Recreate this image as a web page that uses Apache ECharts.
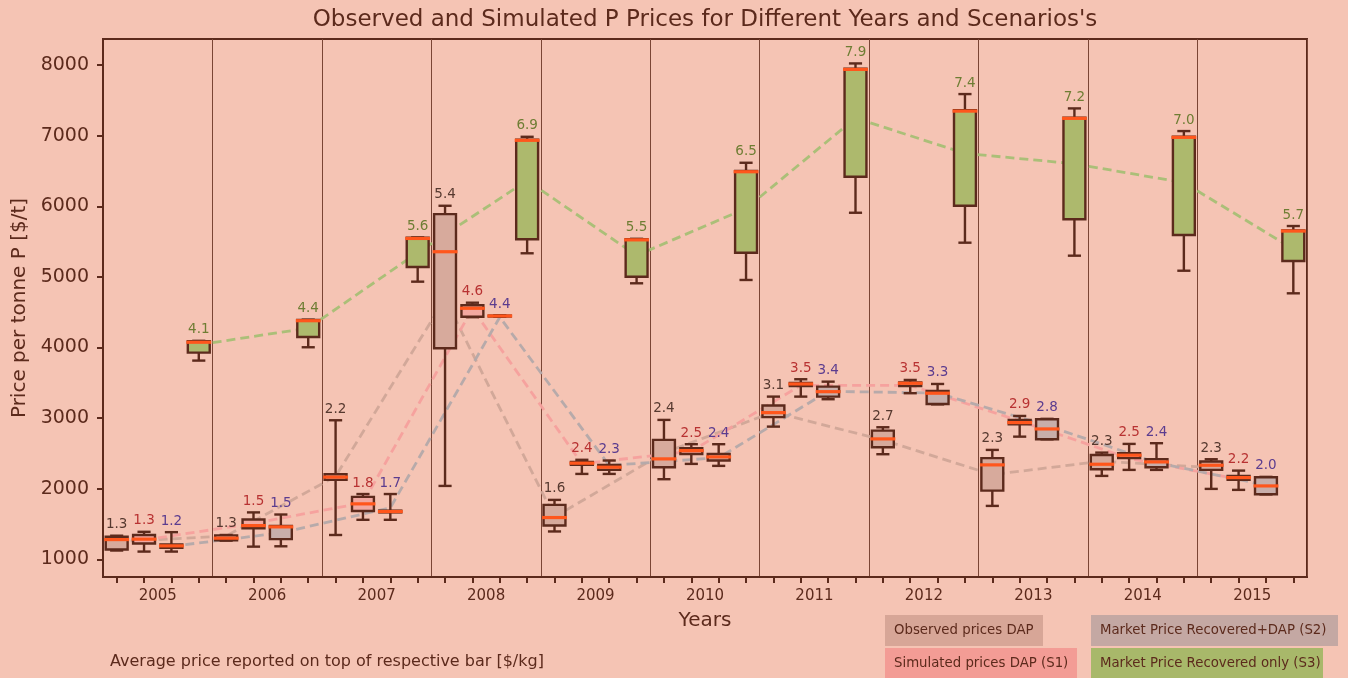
<!DOCTYPE html>
<html><head><meta charset="utf-8">
<script src="https://cdn.jsdelivr.net/npm/echarts@6/dist/echarts.min.js"></script>
<style>html,body{margin:0;padding:0;background:#f5c4b4}#c{width:1348px;height:678px}</style>
</head><body><div id="c"></div>
<script>
const years = ['2005','2006','2007','2008','2009','2010','2011','2012','2013','2014','2015'];
const scenarioNames = ['Observed prices DAP','Simulated prices DAP (S1)','Market Price Recovered+DAP (S2)','Market Price Recovered only (S3)'];
const yTicks = [1000,2000,3000,4000,5000,6000,7000,8000];

// box stats per year: [min, q1, median, q3, max]  ($/t)
const obsBoxes = [[1125,1140,1280,1320,1335],[1265,1270,1300,1340,1345],[1345,2125,2165,2205,2970],[2040,3990,5357,5890,6008],[1395,1480,1592,1772,1842],[2135,2305,2423,2692,2975],[2880,3015,3078,3180,3305],[2489,2588,2706,2823,2871],[1757,1974,2338,2433,2550],[2182,2277,2347,2479,2512],[1998,2267,2333,2385,2418]];
const s1Boxes = [[1110,1225,1286,1345,1390],[1180,1440,1478,1565,1665],[1560,1685,1786,1885,1925],[4430,4437,4556,4600,4635],[2210,2340,2362,2380,2410],[2352,2493,2540,2574,2631],[3305,3456,3484,3500,3551],[3353,3455,3494,3505,3541],[2738,2914,2937,2975,3031],[2267,2433,2475,2503,2635],[1984,2125,2158,2182,2257]];
const s2Boxes = [[1110,1165,1191,1210,1385],[1185,1286,1460,1474,1635],[1560,1665,1677,1690,1925],[4435,4440,4447,4452,4458],[2210,2267,2305,2338,2400],[2324,2399,2451,2493,2631],[3268,3305,3375,3446,3517],[3195,3201,3353,3385,3484],[2700,2702,2847,2985,2990],[2267,2305,2380,2418,2645],[1920,1923,2040,2163,2168]];
const s3Boxes = [[3815,3928,4075,4088,4095],[4004,4150,4380,4390,4395],[4933,5140,5545,5555,5560],[5335,5533,6935,6945,6985],[4910,5003,5525,5535,5540],[4957,5343,6490,6500,6617],[5909,6419,7939,7950,8024],[5485,6008,7349,7360,7590],[5301,5816,7246,7255,7387],[5088,5594,6977,6985,7066],[4768,5226,5650,5660,5721]];

// average price labels [$/kg]
const obsLabels = ['1.3','1.3','2.2','5.4','1.6','2.4','3.1','2.7','2.3','2.3','2.3'];
const s1Labels  = ['1.3','1.5','1.8','4.6','2.4','2.5','3.5','3.5','2.9','2.5','2.2'];
const s2Labels  = ['1.2','1.5','1.7','4.4','2.3','2.4','3.4','3.3','2.8','2.4','2.0'];
const s3Labels  = ['4.1','4.4','5.6','6.9','5.5','6.5','7.9','7.4','7.2','7.0','5.7'];

// dashed trend lines ($/t)
const obsLine = [1250,1330,2175,4690,1600,2510,3085,2690,2200,2390,2300];
const s1Line  = [1273,1510,1800,4550,2355,2530,3465,3465,2960,2430,2135];
const s2Line  = [1185,1375,1730,4430,2330,2440,3380,3355,2895,2370,2050];
const s3Line  = [4040,4275,5345,6365,5305,5970,7250,6750,6603,6335,5395];

const DARK = '#5c2a1c';
const FONT = '"DejaVu Sans", sans-serif';
const boxFills = ['#d7aa9c','#f2a8a0','#c8aeaa','#adb96d'];
const labelColors = ['#56392f','#b83232','#5b3c8f','#6e7d33'];
const lineColors = ['#d0a698','#f5a09d','#b3a9aa','#a6bf75'];
const legendFills = ['#d7a697','#f39c95','#c4a8a3','#a8b86a'];

const slots = [];
years.forEach(y => { ['obs','S1','S2','S3'].forEach(s => slots.push(y + ' ' + s)); });

const allBoxes = [obsBoxes, s1Boxes, s2Boxes, s3Boxes];
const allLabels = [obsLabels, s1Labels, s2Labels, s3Labels];
const allLines = [obsLine, s1Line, s2Line, s3Line];

function makeRender(k) {
  return function (params, api) {
    const s = api.value(0);
    const pMin = api.coord([s, api.value(1)]);
    const pQ1 = api.coord([s, api.value(2)]);
    const pMed = api.coord([s, api.value(3)]);
    const pQ3 = api.coord([s, api.value(4)]);
    const pMax = api.coord([s, api.value(5)]);
    const band = api.size([1, 0])[0];
    const bw = band * 0.8;
    const cw = band * 0.48;
    const x = pMin[0];
    const st = {stroke: DARK, lineWidth: 2.4};
    return {type: 'group', children: [
      {type:'line', shape:{x1:x,y1:pMax[1],x2:x,y2:pQ3[1]}, style:st},
      {type:'line', shape:{x1:x,y1:pQ1[1],x2:x,y2:pMin[1]}, style:st},
      {type:'line', shape:{x1:x-cw/2,y1:pMax[1],x2:x+cw/2,y2:pMax[1]}, style:st},
      {type:'line', shape:{x1:x-cw/2,y1:pMin[1],x2:x+cw/2,y2:pMin[1]}, style:st},
      {type:'rect', shape:{x:x-bw/2,y:pQ3[1],width:bw,height:Math.max(pQ1[1]-pQ3[1],0.5)}, style:{fill:boxFills[k], stroke:DARK, lineWidth:2.4}},
      {type:'line', shape:{x1:x-bw/2-1.5,y1:pMed[1],x2:x+bw/2+1.5,y2:pMed[1]}, style:{stroke:'#ff561c', lineWidth:3.2}},
      {type:'text', x:x, y:pMax[1]-4, style:{text: allLabels[k][params.dataIndex], align:'center', verticalAlign:'bottom', fill: labelColors[k], font:'13.5px ' + FONT}}
    ]};
  };
}

const series = [];
for (let k = 0; k < 4; k++) {
  series.push({
    name: scenarioNames[k] + ' trend',
    type: 'line',
    xAxisIndex: 0,
    data: years.map((_, i) => [i * 4 + k, allLines[k][i]]),
    symbol: 'none',
    lineStyle: {color: lineColors[k], width: 2.8, type: [9, 5], opacity: 0.95},
    z: 2,
    silent: true
  });
}
for (let k = 0; k < 4; k++) {
  series.push({
    name: scenarioNames[k],
    type: 'custom',
    xAxisIndex: 0,
    renderItem: makeRender(k),
    encode: {x: 0, y: [1,2,3,4,5]},
    data: allBoxes[k].map((b, i) => [i * 4 + k].concat(b)),
    z: 3
  });
}

const legendPos = [[885,615,158],[885,648,192],[1091,615,247],[1091,648,232]];
const graphics = [
  {type:'text', x:705, y:20, style:{text:"Observed and Simulated P Prices for Different Years and Scenarios's", align:'center', verticalAlign:'middle', fill:DARK, font:'23px ' + FONT}},
  {type:'text', x:110, y:662, style:{text:'Average price reported on top of respective bar [$/kg]', align:'left', verticalAlign:'middle', fill:DARK, font:'16px ' + FONT}}
];
scenarioNames.forEach((n, k) => {
  const p = legendPos[k];
  graphics.push({type:'rect', shape:{x:p[0], y:p[1], width:p[2], height:31}, style:{fill:legendFills[k]}});
  graphics.push({type:'text', x:p[0]+9, y:p[1]+15.5, style:{text:n, align:'left', verticalAlign:'middle', fill:DARK, font:'13.3px ' + FONT}});
});

const chart = echarts.init(document.getElementById('c'), null, {renderer:'canvas'});
chart.setOption({
  backgroundColor: '#f5c4b4',
  animation: false,
  textStyle: {fontFamily: FONT},
  grid: {left:103, right:41, top:39, bottom:101, show:true, borderColor:DARK, borderWidth:2, backgroundColor:'transparent'},
  xAxis: [
    {type:'category', data:slots, position:'bottom',
     axisLine:{show:true, lineStyle:{color:DARK, width:2}},
     axisTick:{show:true, alignWithLabel:true, interval:0, length:6, lineStyle:{color:DARK, width:2}},
     axisLabel:{show:false}, splitLine:{show:false}},
    {type:'category', data:years, position:'bottom',
     axisLine:{show:false}, axisTick:{show:false},
     axisLabel:{show:true, interval:0, fontSize:15, color:DARK, margin:12, fontFamily:FONT},
     splitLine:{show:true, interval:0, lineStyle:{color:'#7a4535', width:1}},
     name:'Years', nameLocation:'middle', nameGap:34, nameTextStyle:{fontSize:20, color:DARK, fontFamily:FONT}}
  ],
  yAxis: {type:'value', min:750, max:8370,
    axisLine:{show:true, lineStyle:{color:DARK, width:2}},
    axisTick:{show:true, length:6, customValues:yTicks, lineStyle:{color:DARK, width:2}},
    axisLabel:{customValues:yTicks, fontSize:19, color:DARK, margin:14, fontFamily:FONT, formatter: v => String(v)},
    splitLine:{show:false},
    name:'Price per tonne P [$/t]', nameLocation:'middle', nameGap:66,
    nameTextStyle:{fontSize:20, color:DARK, fontFamily:FONT}},
  graphic: graphics,
  series: series
});
</script></body></html>
